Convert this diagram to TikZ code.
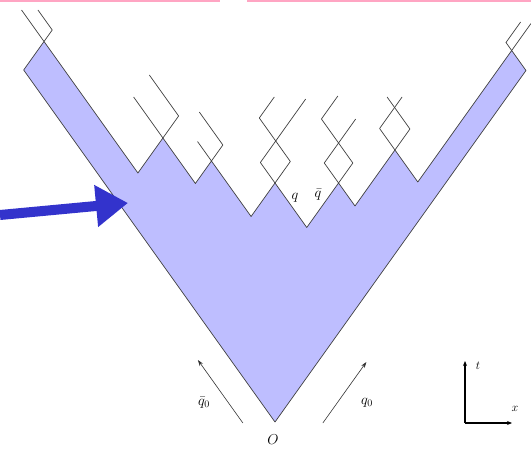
\documentclass[tikz,border=0pt]{standalone}
\usetikzlibrary{arrows.meta}
\definecolor{conefill}{RGB}{190,190,255}
\definecolor{arrowblue}{RGB}{51,51,204}
\definecolor{pinkline}{RGB}{255,165,195}
\begin{document}
\begin{tikzpicture}[x=1pt,y=-1pt,
  outline/.style={draw=black!75, line width=0.7pt, line join=round},
  stringline/.style={draw=black!75, line width=0.7pt, line join=round},
  thinarrow/.style={draw=black!80, line width=0.6pt, -{Stealth[length=6pt,width=4pt]}},
  axisline/.style={draw=black, line width=1.3pt, -{Stealth[length=5pt,width=4pt]}},
  lbl/.style={font=\fontsize{14}{16}\selectfont, inner sep=0pt},
  smalllbl/.style={font=\fontsize{12}{14}\selectfont, inner sep=0pt}]
\useasboundingbox (0,0) rectangle (531,452);
\fill[white] (0,0) rectangle (531,452);
% pink rule at the top
\coordinate (pk1) at (0,1); \coordinate (pk2) at (220,1);
\coordinate (pk3) at (247,1); \coordinate (pk4) at (531,1);
\draw[pinkline, line width=2pt] (pk1) -- (pk2);
\draw[pinkline, line width=2pt] (pk3) -- (pk4);
% light-cone coordinates (A,B)
\begin{scope}[shift={(275,0)}, x={(0.357pt,-0.5pt)}, y={(-0.357pt,-0.5pt)}]
\coordinate (O) at (422,422);
\coordinate (LC) at (-282,422);
\coordinate (LT) at (-282,365);
\coordinate (V1) at (-19,365);
\coordinate (P1) at (-19,295);
\coordinate (V2) at (72,295);
\coordinate (P2) at (72,250);
\coordinate (V3) at (183,250);
\coordinate (P3) at (183,183);
\coordinate (V4) at (272,183);
\coordinate (P4) at (272,94);
\coordinate (V5) at (318,94);
\coordinate (P5) at (318,-18);
\coordinate (V6) at (382,-18);
\coordinate (RT) at (382,-281);
\coordinate (RC) at (422,-281);
\filldraw[fill=conefill, outline] (O) -- (LC) -- (LT) -- (V1) -- (P1) -- (V2) -- (P2) -- (V3) -- (P3) -- (V4) -- (P4) -- (V5) -- (P5) -- (V6) -- (RT) -- (RC) -- cycle;
% strings
\draw[stringline] (LT) -- (-345,365);
\draw[stringline] (LT) -- (-282,342) -- (-322,342);
\draw[stringline] (P1) -- (-101,295);
\draw[stringline] (P1) -- (-19,251) -- (-101,251);
\draw[stringline] (P2) -- (33,250);
\draw[stringline] (P2) -- (72,218) -- (6,218);
\draw[stringline] (P3) -- (142,183) -- (142,56);
\draw[stringline] (P3) -- (183,140) -- (96,140) -- (96,98);
\draw[stringline] (P4) -- (232,94) -- (232,6);
\draw[stringline] (P4) -- (272,54) -- (184,54) -- (184,8);
\draw[stringline] (P5) -- (275,-18) -- (275,-81);
\draw[stringline] (P5) -- (318,-60) -- (254,-60);
\draw[stringline] (RT) -- (366,-281) -- (366,-322);
\draw[stringline] (RT) -- (382,-335);
% momentum arrows
\coordinate (la0) at (378,468); \coordinate (la1) at (252,468);
\coordinate (ra0) at (490,356); \coordinate (ra1) at (490,234);
\draw[thinarrow] (la0) -- (la1);
\draw[thinarrow] (ra0) -- (ra1);
\end{scope}
% labels
\node[lbl] (q) at (295,198) {$q$};
\node[lbl] (qbar) at (318,195) {$\bar q$};
\node[lbl] (qbar0) at (204,403) {$\bar q_0$};
\node[lbl] (q0) at (367,403) {$q_0$};
\node[lbl] (origin) at (273,440) {$O$};
% axes
\coordinate (ax0) at (465,423);
\coordinate (axt) at (465,361);
\coordinate (axx) at (512,423);
\draw[axisline] (ax0) -- (axt);
\draw[axisline] (ax0) -- (axx);
\node[smalllbl] (tl) at (478,366) {$t$};
\node[smalllbl] (xl) at (515,409) {$x$};
% big blue arrow
\coordinate (ba0) at (0,215); \coordinate (ba1) at (128,203);
\draw[arrowblue, line width=10pt, -{Triangle[length=32pt,width=40pt]}] (ba0) -- (ba1);
\end{tikzpicture}
\end{document}
